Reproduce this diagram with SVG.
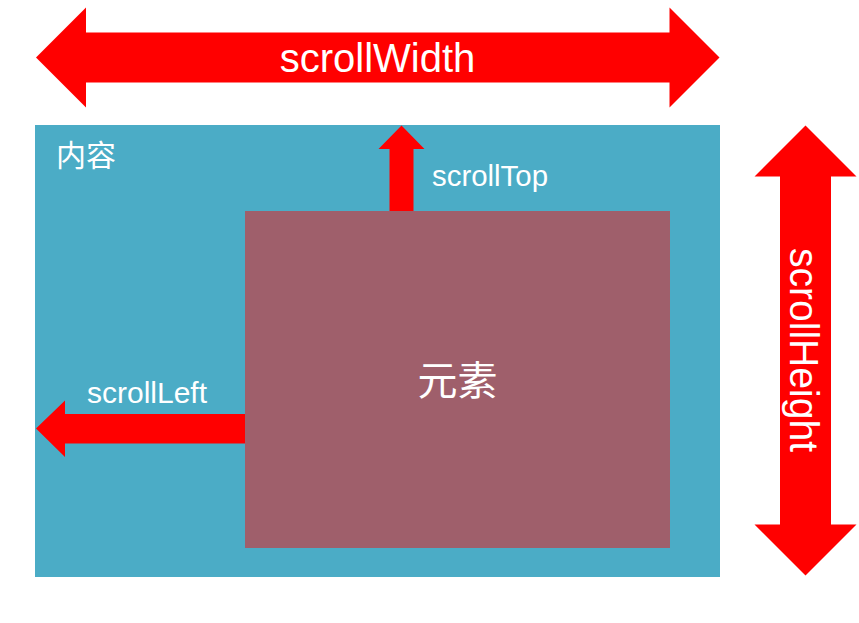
<svg xmlns="http://www.w3.org/2000/svg" width="859" height="623" viewBox="0 0 859 623">
<style>
.arrow{fill:#FF0000}
.lbl{fill:#FFFFFF;font-family:"Liberation Sans",Arial,sans-serif}
.cjk{fill:#FFFFFF;font-family:"Noto Sans CJK SC","Noto Sans",sans-serif}
</style>
<rect width="859" height="623" fill="#FFFFFF"/>
<g id="content">
<rect x="35" y="125" width="685" height="452" fill="#4BACC6"/>
<text class="cjk" x="56" y="166" font-size="30">内容</text>
</g>
<g id="element">
<rect x="245" y="211" width="425" height="337" fill="#9F5F6B"/>
<text class="cjk" x="457.5" y="395" font-size="40" text-anchor="middle">元素</text>
</g>
<g id="connectors">
<g id="scrollWidth">
<polygon class="arrow" points="36,57.5 86,7.5 86,32.5 669.5,32.5 669.5,7.5 719.5,57.5 669.5,107.5 669.5,82.5 86,82.5 86,107.5"/>
<text class="lbl" x="377.5" y="72" font-size="40" text-anchor="middle">scrollWidth</text>
</g>
<g id="scrollHeight">
<polygon class="arrow" points="805.5,125.5 856.5,176.5 831,176.5 831,524.5 856.5,524.5 805.5,575.5 754.5,524.5 780,524.5 780,176.5 754.5,176.5"/>
<text class="lbl" transform="translate(789.5,350) rotate(90)" x="0" y="0" font-size="40" text-anchor="middle" textLength="204" lengthAdjust="spacingAndGlyphs">scrollHeight</text>
</g>
<g id="scrollTop">
<polygon class="arrow" points="401.5,125.5 424.5,149 413.5,149 413.5,211 389.5,211 389.5,149 378.5,149"/>
<text class="lbl" x="432" y="186" font-size="29" textLength="116" lengthAdjust="spacingAndGlyphs">scrollTop</text>
</g>
<g id="scrollLeft">
<polygon class="arrow" points="36,428.5 65,400.5 65,414 245,414 245,443.5 65,443.5 65,457"/>
<text class="lbl" x="87" y="403" font-size="29" textLength="120" lengthAdjust="spacingAndGlyphs">scrollLeft</text>
</g>
</g>
</svg>
